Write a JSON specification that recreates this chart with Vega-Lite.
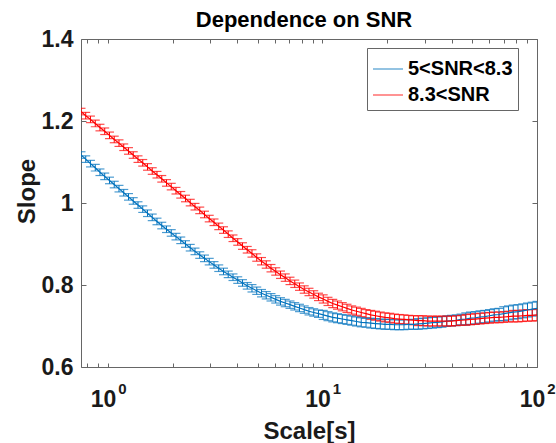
{
"$schema": "https://vega.github.io/schema/vega-lite/v6.json",
"width": 456, "height": 328,
"autosize": {"type": "none"},
"padding": {"left": 81, "top": 39, "right": 19, "bottom": 76},
"background": "white",
"title": {"text": "Dependence on SNR", "fontSize": 22, "font": "Liberation Sans", "fontWeight": "bold", "color": "#000000", "offset": -4, "anchor": "middle", "dx": -5},
"config": {"view": {"stroke": "#666666", "strokeWidth": 1}, "font": "Liberation Sans"},
"data": {"values": [
{"g":"5<SNR<8.3","x":0.749,"y":1.117,"e":0.008},{"g":"5<SNR<8.3","x":0.788,"y":1.107,"e":0.008},{"g":"5<SNR<8.3","x":0.829,"y":1.096,"e":0.008},{"g":"5<SNR<8.3","x":0.873,"y":1.086,"e":0.008},{"g":"5<SNR<8.3","x":0.918,"y":1.075,"e":0.008},{"g":"5<SNR<8.3","x":0.966,"y":1.065,"e":0.008},{"g":"5<SNR<8.3","x":1.017,"y":1.055,"e":0.008},{"g":"5<SNR<8.3","x":1.070,"y":1.045,"e":0.008},{"g":"5<SNR<8.3","x":1.126,"y":1.035,"e":0.008},{"g":"5<SNR<8.3","x":1.185,"y":1.025,"e":0.008},
{"g":"5<SNR<8.3","x":1.247,"y":1.015,"e":0.008},{"g":"5<SNR<8.3","x":1.312,"y":1.005,"e":0.008},{"g":"5<SNR<8.3","x":1.381,"y":0.995,"e":0.008},{"g":"5<SNR<8.3","x":1.453,"y":0.985,"e":0.008},{"g":"5<SNR<8.3","x":1.529,"y":0.975,"e":0.008},{"g":"5<SNR<8.3","x":1.609,"y":0.965,"e":0.008},{"g":"5<SNR<8.3","x":1.693,"y":0.955,"e":0.008},{"g":"5<SNR<8.3","x":1.782,"y":0.945,"e":0.008},{"g":"5<SNR<8.3","x":1.875,"y":0.936,"e":0.008},{"g":"5<SNR<8.3","x":1.973,"y":0.927,"e":0.008},
{"g":"5<SNR<8.3","x":2.076,"y":0.918,"e":0.008},{"g":"5<SNR<8.3","x":2.185,"y":0.909,"e":0.008},{"g":"5<SNR<8.3","x":2.299,"y":0.900,"e":0.008},{"g":"5<SNR<8.3","x":2.419,"y":0.891,"e":0.008},{"g":"5<SNR<8.3","x":2.546,"y":0.882,"e":0.008},{"g":"5<SNR<8.3","x":2.679,"y":0.873,"e":0.008},{"g":"5<SNR<8.3","x":2.819,"y":0.865,"e":0.008},{"g":"5<SNR<8.3","x":2.966,"y":0.857,"e":0.008},{"g":"5<SNR<8.3","x":3.122,"y":0.849,"e":0.008},{"g":"5<SNR<8.3","x":3.285,"y":0.841,"e":0.008},
{"g":"5<SNR<8.3","x":3.457,"y":0.833,"e":0.008},{"g":"5<SNR<8.3","x":3.637,"y":0.826,"e":0.008},{"g":"5<SNR<8.3","x":3.828,"y":0.819,"e":0.008},{"g":"5<SNR<8.3","x":4.028,"y":0.812,"e":0.008},{"g":"5<SNR<8.3","x":4.239,"y":0.805,"e":0.008},{"g":"5<SNR<8.3","x":4.460,"y":0.798,"e":0.008},{"g":"5<SNR<8.3","x":4.693,"y":0.792,"e":0.009},{"g":"5<SNR<8.3","x":4.939,"y":0.786,"e":0.009},{"g":"5<SNR<8.3","x":5.197,"y":0.780,"e":0.009},{"g":"5<SNR<8.3","x":5.469,"y":0.775,"e":0.009},
{"g":"5<SNR<8.3","x":5.755,"y":0.770,"e":0.009},{"g":"5<SNR<8.3","x":6.056,"y":0.765,"e":0.009},{"g":"5<SNR<8.3","x":6.373,"y":0.760,"e":0.009},{"g":"5<SNR<8.3","x":6.706,"y":0.756,"e":0.009},{"g":"5<SNR<8.3","x":7.057,"y":0.752,"e":0.009},{"g":"5<SNR<8.3","x":7.426,"y":0.748,"e":0.009},{"g":"5<SNR<8.3","x":7.815,"y":0.744,"e":0.009},{"g":"5<SNR<8.3","x":8.223,"y":0.740,"e":0.009},{"g":"5<SNR<8.3","x":8.653,"y":0.736,"e":0.009},{"g":"5<SNR<8.3","x":9.106,"y":0.733,"e":0.009},
{"g":"5<SNR<8.3","x":9.583,"y":0.730,"e":0.009},{"g":"5<SNR<8.3","x":10.08,"y":0.727,"e":0.011},{"g":"5<SNR<8.3","x":10.61,"y":0.724,"e":0.011},{"g":"5<SNR<8.3","x":11.17,"y":0.721,"e":0.011},{"g":"5<SNR<8.3","x":11.75,"y":0.719,"e":0.011},{"g":"5<SNR<8.3","x":12.37,"y":0.717,"e":0.011},{"g":"5<SNR<8.3","x":13.01,"y":0.715,"e":0.011},{"g":"5<SNR<8.3","x":13.69,"y":0.713,"e":0.011},{"g":"5<SNR<8.3","x":14.41,"y":0.711,"e":0.011},{"g":"5<SNR<8.3","x":15.16,"y":0.709,"e":0.011},
{"g":"5<SNR<8.3","x":15.96,"y":0.708,"e":0.011},{"g":"5<SNR<8.3","x":16.79,"y":0.707,"e":0.012},{"g":"5<SNR<8.3","x":17.67,"y":0.706,"e":0.012},{"g":"5<SNR<8.3","x":18.60,"y":0.705,"e":0.012},{"g":"5<SNR<8.3","x":19.57,"y":0.704,"e":0.012},{"g":"5<SNR<8.3","x":20.59,"y":0.704,"e":0.012},{"g":"5<SNR<8.3","x":21.67,"y":0.703,"e":0.012},{"g":"5<SNR<8.3","x":22.81,"y":0.703,"e":0.012},{"g":"5<SNR<8.3","x":23.99,"y":0.703,"e":0.012},{"g":"5<SNR<8.3","x":25.25,"y":0.704,"e":0.012},
{"g":"5<SNR<8.3","x":26.57,"y":0.704,"e":0.012},{"g":"5<SNR<8.3","x":27.96,"y":0.705,"e":0.013},{"g":"5<SNR<8.3","x":29.42,"y":0.706,"e":0.013},{"g":"5<SNR<8.3","x":30.96,"y":0.707,"e":0.013},{"g":"5<SNR<8.3","x":32.58,"y":0.708,"e":0.013},{"g":"5<SNR<8.3","x":34.28,"y":0.709,"e":0.013},{"g":"5<SNR<8.3","x":36.08,"y":0.710,"e":0.013},{"g":"5<SNR<8.3","x":37.97,"y":0.712,"e":0.013},{"g":"5<SNR<8.3","x":39.95,"y":0.713,"e":0.013},{"g":"5<SNR<8.3","x":42.04,"y":0.714,"e":0.013},
{"g":"5<SNR<8.3","x":44.24,"y":0.716,"e":0.013},{"g":"5<SNR<8.3","x":46.56,"y":0.717,"e":0.015},{"g":"5<SNR<8.3","x":48.98,"y":0.719,"e":0.015},{"g":"5<SNR<8.3","x":51.55,"y":0.720,"e":0.015},{"g":"5<SNR<8.3","x":54.24,"y":0.722,"e":0.015},{"g":"5<SNR<8.3","x":57.08,"y":0.723,"e":0.015},{"g":"5<SNR<8.3","x":60.07,"y":0.725,"e":0.015},{"g":"5<SNR<8.3","x":63.21,"y":0.727,"e":0.015},{"g":"5<SNR<8.3","x":66.52,"y":0.728,"e":0.015},{"g":"5<SNR<8.3","x":69.98,"y":0.730,"e":0.017},
{"g":"5<SNR<8.3","x":73.65,"y":0.732,"e":0.017},{"g":"5<SNR<8.3","x":77.50,"y":0.734,"e":0.017},{"g":"5<SNR<8.3","x":81.55,"y":0.735,"e":0.017},{"g":"5<SNR<8.3","x":85.82,"y":0.737,"e":0.017},{"g":"5<SNR<8.3","x":90.31,"y":0.739,"e":0.017},{"g":"5<SNR<8.3","x":95.02,"y":0.741,"e":0.017},{"g":"5<SNR<8.3","x":100,"y":0.743,"e":0.017},
{"g":"8.3<SNR","x":0.749,"y":1.223,"e":0.008},{"g":"8.3<SNR","x":0.788,"y":1.213,"e":0.008},{"g":"8.3<SNR","x":0.829,"y":1.204,"e":0.008},{"g":"8.3<SNR","x":0.873,"y":1.194,"e":0.008},{"g":"8.3<SNR","x":0.918,"y":1.184,"e":0.008},{"g":"8.3<SNR","x":0.966,"y":1.175,"e":0.008},{"g":"8.3<SNR","x":1.017,"y":1.165,"e":0.008},{"g":"8.3<SNR","x":1.070,"y":1.155,"e":0.008},{"g":"8.3<SNR","x":1.126,"y":1.146,"e":0.008},{"g":"8.3<SNR","x":1.185,"y":1.136,"e":0.008},
{"g":"8.3<SNR","x":1.247,"y":1.127,"e":0.008},{"g":"8.3<SNR","x":1.312,"y":1.117,"e":0.008},{"g":"8.3<SNR","x":1.381,"y":1.107,"e":0.008},{"g":"8.3<SNR","x":1.453,"y":1.098,"e":0.008},{"g":"8.3<SNR","x":1.529,"y":1.088,"e":0.008},{"g":"8.3<SNR","x":1.609,"y":1.078,"e":0.008},{"g":"8.3<SNR","x":1.693,"y":1.069,"e":0.008},{"g":"8.3<SNR","x":1.782,"y":1.059,"e":0.008},{"g":"8.3<SNR","x":1.875,"y":1.049,"e":0.008},{"g":"8.3<SNR","x":1.973,"y":1.040,"e":0.008},
{"g":"8.3<SNR","x":2.076,"y":1.030,"e":0.008},{"g":"8.3<SNR","x":2.185,"y":1.020,"e":0.008},{"g":"8.3<SNR","x":2.299,"y":1.011,"e":0.008},{"g":"8.3<SNR","x":2.419,"y":1.001,"e":0.008},{"g":"8.3<SNR","x":2.546,"y":0.991,"e":0.008},{"g":"8.3<SNR","x":2.679,"y":0.982,"e":0.008},{"g":"8.3<SNR","x":2.819,"y":0.972,"e":0.008},{"g":"8.3<SNR","x":2.966,"y":0.962,"e":0.008},{"g":"8.3<SNR","x":3.122,"y":0.953,"e":0.008},{"g":"8.3<SNR","x":3.285,"y":0.943,"e":0.008},
{"g":"8.3<SNR","x":3.457,"y":0.934,"e":0.008},{"g":"8.3<SNR","x":3.637,"y":0.924,"e":0.008},{"g":"8.3<SNR","x":3.828,"y":0.914,"e":0.008},{"g":"8.3<SNR","x":4.028,"y":0.905,"e":0.008},{"g":"8.3<SNR","x":4.239,"y":0.895,"e":0.008},{"g":"8.3<SNR","x":4.460,"y":0.886,"e":0.008},{"g":"8.3<SNR","x":4.693,"y":0.877,"e":0.009},{"g":"8.3<SNR","x":4.939,"y":0.867,"e":0.009},{"g":"8.3<SNR","x":5.197,"y":0.858,"e":0.009},{"g":"8.3<SNR","x":5.469,"y":0.850,"e":0.009},
{"g":"8.3<SNR","x":5.755,"y":0.841,"e":0.009},{"g":"8.3<SNR","x":6.056,"y":0.833,"e":0.009},{"g":"8.3<SNR","x":6.373,"y":0.825,"e":0.009},{"g":"8.3<SNR","x":6.706,"y":0.818,"e":0.009},{"g":"8.3<SNR","x":7.057,"y":0.810,"e":0.009},{"g":"8.3<SNR","x":7.426,"y":0.803,"e":0.009},{"g":"8.3<SNR","x":7.815,"y":0.796,"e":0.009},{"g":"8.3<SNR","x":8.223,"y":0.789,"e":0.009},{"g":"8.3<SNR","x":8.653,"y":0.783,"e":0.009},{"g":"8.3<SNR","x":9.106,"y":0.777,"e":0.009},
{"g":"8.3<SNR","x":9.583,"y":0.771,"e":0.009},{"g":"8.3<SNR","x":10.08,"y":0.766,"e":0.010},{"g":"8.3<SNR","x":10.61,"y":0.760,"e":0.010},{"g":"8.3<SNR","x":11.17,"y":0.755,"e":0.010},{"g":"8.3<SNR","x":11.75,"y":0.751,"e":0.010},{"g":"8.3<SNR","x":12.37,"y":0.747,"e":0.010},{"g":"8.3<SNR","x":13.01,"y":0.743,"e":0.010},{"g":"8.3<SNR","x":13.69,"y":0.739,"e":0.010},{"g":"8.3<SNR","x":14.41,"y":0.736,"e":0.010},{"g":"8.3<SNR","x":15.16,"y":0.733,"e":0.010},
{"g":"8.3<SNR","x":15.96,"y":0.730,"e":0.010},{"g":"8.3<SNR","x":16.79,"y":0.727,"e":0.011},{"g":"8.3<SNR","x":17.67,"y":0.725,"e":0.011},{"g":"8.3<SNR","x":18.60,"y":0.723,"e":0.011},{"g":"8.3<SNR","x":19.57,"y":0.721,"e":0.011},{"g":"8.3<SNR","x":20.59,"y":0.720,"e":0.011},{"g":"8.3<SNR","x":21.67,"y":0.718,"e":0.011},{"g":"8.3<SNR","x":22.81,"y":0.717,"e":0.011},{"g":"8.3<SNR","x":23.99,"y":0.716,"e":0.011},{"g":"8.3<SNR","x":25.25,"y":0.715,"e":0.011},
{"g":"8.3<SNR","x":26.57,"y":0.714,"e":0.011},{"g":"8.3<SNR","x":27.96,"y":0.713,"e":0.012},{"g":"8.3<SNR","x":29.42,"y":0.713,"e":0.012},{"g":"8.3<SNR","x":30.96,"y":0.712,"e":0.012},{"g":"8.3<SNR","x":32.58,"y":0.712,"e":0.012},{"g":"8.3<SNR","x":34.28,"y":0.712,"e":0.012},{"g":"8.3<SNR","x":36.08,"y":0.712,"e":0.012},{"g":"8.3<SNR","x":37.97,"y":0.712,"e":0.012},{"g":"8.3<SNR","x":39.95,"y":0.712,"e":0.012},{"g":"8.3<SNR","x":42.04,"y":0.713,"e":0.012},
{"g":"8.3<SNR","x":44.24,"y":0.714,"e":0.012},{"g":"8.3<SNR","x":46.56,"y":0.715,"e":0.013},{"g":"8.3<SNR","x":48.98,"y":0.716,"e":0.013},{"g":"8.3<SNR","x":51.55,"y":0.717,"e":0.013},{"g":"8.3<SNR","x":54.24,"y":0.718,"e":0.013},{"g":"8.3<SNR","x":57.08,"y":0.719,"e":0.013},{"g":"8.3<SNR","x":60.07,"y":0.720,"e":0.013},{"g":"8.3<SNR","x":63.21,"y":0.721,"e":0.013},{"g":"8.3<SNR","x":66.52,"y":0.721,"e":0.013},{"g":"8.3<SNR","x":69.98,"y":0.722,"e":0.013},
{"g":"8.3<SNR","x":73.65,"y":0.723,"e":0.013},{"g":"8.3<SNR","x":77.50,"y":0.724,"e":0.014},{"g":"8.3<SNR","x":81.55,"y":0.724,"e":0.014},{"g":"8.3<SNR","x":85.82,"y":0.725,"e":0.014},{"g":"8.3<SNR","x":90.31,"y":0.726,"e":0.014},{"g":"8.3<SNR","x":95.02,"y":0.726,"e":0.014},{"g":"8.3<SNR","x":100,"y":0.727,"e":0.014}
]},
"layer": [
{"mark": {"type": "errorbar", "thickness": 1, "ticks": {"size": 9, "thickness": 1.2}, "clip": true},
 "encoding": {
  "x": {"field": "x", "type": "quantitative", "scale": {"type": "log", "domain": [0.749, 100], "nice": false}, "axis": null},
  "y": {"field": "y", "type": "quantitative", "scale": {"domain": [0.6, 1.4], "nice": false, "zero": false}, "axis": null},
  "yError": {"field": "e"},
  "color": {"field": "g", "type": "nominal", "scale": {"domain": ["5<SNR<8.3", "8.3<SNR"], "range": ["#0072BD", "#FF0000"]}}
 }},
{"mark": {"type": "line", "strokeWidth": 1.2, "clip": true},
 "encoding": {
  "x": {"field": "x", "type": "quantitative", "scale": {"type": "log", "domain": [0.749, 100], "nice": false},
        "axis": {"orient": "bottom", "values": [0.8,0.9,1,2,3,4,5,6,7,8,9,10,20,30,40,50,60,70,80,90,100],
                 "labelExpr": "datum.value == 1 || datum.value == 10 || datum.value == 100 ? '10' : ''",
                 "labelFontSize": 23, "labelFont": "Liberation Sans", "labelFontWeight": "bold", "labelColor": "#1a1a1a",
                 "labelBaseline": "alphabetic", "labelPadding": 43, "labelOffset": -5, "labelFlush": false, "labelOverlap": false,
                 "tickSize": -4, "tickColor": "#666666", "domain": false, "grid": false,
                 "title": "Scale[s]", "titleFontSize": 24, "titleFont": "Liberation Sans", "titleFontWeight": "bold", "titleColor": "#1a1a1a",
                 "titleBaseline": "alphabetic", "titleY": 71}},
  "y": {"field": "y", "type": "quantitative", "scale": {"domain": [0.6, 1.4], "nice": false, "zero": false},
        "axis": {"orient": "left", "values": [0.6, 0.8, 1, 1.2, 1.4], "format": "~g",
                 "labelFontSize": 23, "labelFont": "Liberation Sans", "labelFontWeight": "bold", "labelColor": "#1a1a1a",
                 "labelPadding": 13, "labelFlush": false, "labelOverlap": false,
                 "tickSize": -5, "tickColor": "#666666", "domain": false, "grid": false,
                 "title": "Slope", "titleFontSize": 24, "titleFont": "Liberation Sans", "titleFontWeight": "bold", "titleColor": "#1a1a1a",
                 "titleBaseline": "alphabetic", "titleAngle": -90, "titleX": -47, "titleY": 152}},
  "color": {"field": "g", "type": "nominal", "scale": {"domain": ["5<SNR<8.3", "8.3<SNR"], "range": ["#0072BD", "#FF0000"]},
            "legend": {"title": null, "orient": "none", "legendX": 286, "legendY": 9, "symbolType": "stroke", "symbolSize": 900,
                       "symbolStrokeWidth": 1.2, "labelFontSize": 20, "labelFont": "Liberation Sans", "labelFontWeight": "bold", "labelColor": "#000000",
                       "strokeColor": "#666666", "fillColor": "white", "padding": 5, "rowPadding": -3, "labelOffset": 4, "labelLimit": 300}}
 }},
{"mark": {"type": "point", "opacity": 0},
 "encoding": {
  "x": {"field": "x", "type": "quantitative", "scale": {"type": "log", "domain": [0.749, 100], "nice": false},
        "axis": {"orient": "top", "values": [0.8,0.9,1,2,3,4,5,6,7,8,9,10,20,30,40,50,60,70,80,90,100],
                 "labelExpr": "datum.value == 1 ? '0' : datum.value == 10 ? '1' : datum.value == 100 ? '2' : ''",
                 "labelFontSize": 15, "labelFont": "Liberation Sans", "labelFontWeight": "bold", "labelColor": "#1a1a1a",
                 "labelBaseline": "alphabetic", "labelPadding": -350, "labelOffset": 14, "labelFlush": false, "labelOverlap": false,
                 "tickSize": -4, "tickColor": "#666666", "domain": false, "grid": false, "title": null}},
  "y": {"field": "y", "type": "quantitative", "scale": {"domain": [0.6, 1.4], "nice": false, "zero": false},
        "axis": {"orient": "right", "values": [0.6, 0.8, 1, 1.2, 1.4], "labels": false,
                 "tickSize": -5, "tickColor": "#666666", "domain": false, "grid": false, "title": null}}
 }}
],
"resolve": {"scale": {"x": "independent", "y": "independent"}}
}
